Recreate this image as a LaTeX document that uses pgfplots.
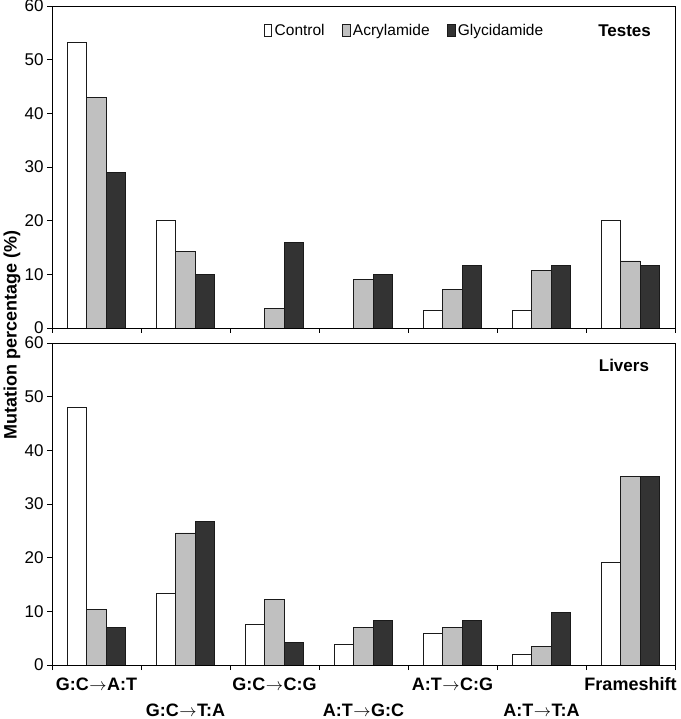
\documentclass[border=0pt]{standalone}
\usepackage{pgfplots}
\pgfplotsset{compat=1.18}
\usepackage{pgfplotstable}
\usepackage{fontspec}
\setmainfont{Liberation Sans}
\definecolor{acr}{HTML}{C0C0C0}
\definecolor{gly}{HTML}{333333}
\definecolor{edge}{HTML}{1A1A1A}
\newcommand{\ar}{\hspace{0.5pt}$\rightarrow$\hspace{0.5pt}}

\pgfplotstableread{
cat ctrl acr gly
0 53.3 42.9 28.9
1 20.0 14.3 10.0
2 0    3.6  15.9
3 0    9.0  10.0
4 3.2  7.1  11.6
5 3.2  10.7 11.6
6 20.0 12.5 11.6
}\testes

\pgfplotstableread{
cat ctrl acr gly
0 48.0 10.4 7.0
1 13.4 24.6 26.7
2 7.6  12.2 4.2
3 3.8  7.0  8.3
4 5.8  7.0  8.3
5 1.9  3.4  9.8
6 19.2 35.2 35.2
}\livers

\begin{document}
\begin{tikzpicture}
\useasboundingbox (0pt,0pt) rectangle (680pt,719pt);
\pgfplotsset{
  panel/.style={
    scale only axis, width=623pt,
    xmin=-0.5, xmax=6.5, ymin=0, ymax=60,
    ytick={0,10,...,60},
    xtick={-0.5,0.5,...,6.5},
    xticklabels={,,,,,,,,},
    ybar=0pt, bar width=19.5pt,
    axis line style={line width=0.9pt, black},
    tick style={line width=0.9pt, black},
    major tick length=5pt,
    tick align=outside,
    xtick pos=lower, ytick pos=left,
    /pgf/number format/assume math mode=true,
    tick label style={font=\fontsize{17}{17}\selectfont},
    every axis plot/.append style={draw=edge, line width=0.8pt},
  },
}
% Top panel
\begin{axis}[panel, height=322pt, at={(52pt,391pt)}, anchor=south west,
    legend style={at={(0.335,0.923)}, anchor=west, draw=none, fill=none,
      legend columns=3, font=\fontsize{15.5}{16}\selectfont,
      /tikz/every even column/.append style={column sep=15pt},
      nodes={inner sep=2.5pt}},
    legend image code/.code={\draw[#1, line width=0.8pt] (0pt,-6pt) rectangle (7.5pt,6pt);},
  ]
  \addplot[fill=white] table[x=cat, y=ctrl] {\testes};
  \addplot[fill=acr] table[x=cat, y=acr] {\testes};
  \addplot[fill=gly] table[x=cat, y=gly] {\testes};
  \legend{Control, Acrylamide, Glycidamide}
  \node[font=\bfseries\fontsize{17}{17}\selectfont] at (rel axis cs:0.919,0.923) {Testes};
\end{axis}
% Bottom panel
\begin{axis}[panel, height=322pt, at={(52pt,54pt)}, anchor=south west,
    extra x ticks={0,1,...,6},
    extra x tick labels={G:C\ar A:T, {\vphantom{G}\\G:C\ar T:A}, G:C\ar C:G, {\vphantom{G}\\A:T\ar G:C}, A:T\ar C:G, {\vphantom{G}\\A:T\ar T:A}, Frameshift},
    extra x tick style={major tick length=0pt,
      xticklabel style={align=center, anchor=north, yshift=-9pt, font=\bfseries\fontsize{18}{26}\selectfont}},
  ]
  \addplot[fill=white] table[x=cat, y=ctrl] {\livers};
  \addplot[fill=acr] table[x=cat, y=acr] {\livers};
  \addplot[fill=gly] table[x=cat, y=gly] {\livers};
  \node[font=\bfseries\fontsize{17}{17}\selectfont] at (rel axis cs:0.918,0.929) {Livers};
\end{axis}
\node[rotate=90, font=\bfseries\fontsize{18}{18}\selectfont] at (12pt,384pt) {Mutation percentage (\%)};
\end{tikzpicture}
\end{document}
